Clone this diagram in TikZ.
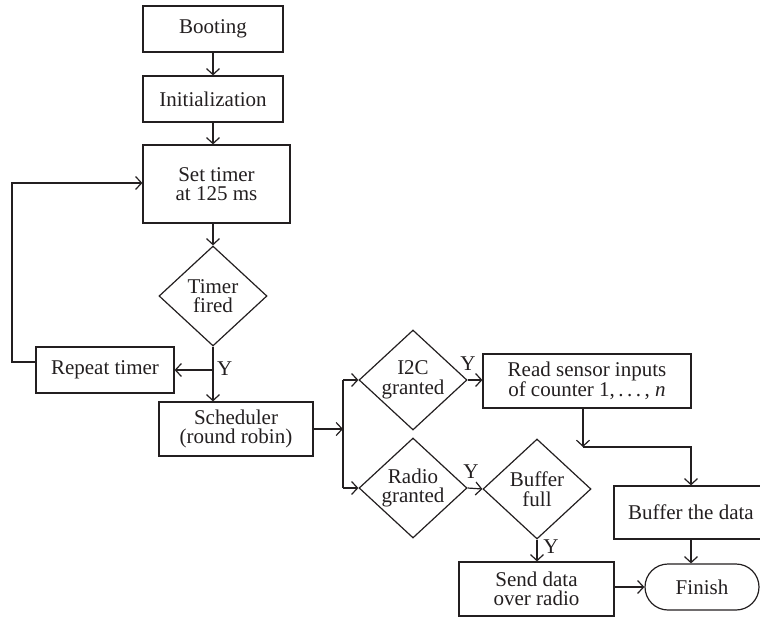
\documentclass[tikz,border=0pt]{standalone}
\usepackage{fontspec}
\setmainfont{Liberation Serif}
\usetikzlibrary{shapes.geometric,arrows.meta}
\definecolor{ink}{HTML}{231F20}
\tikzset{
  box/.style={draw=ink, line width=1.2pt, rectangle, align=center, inner sep=0pt, text=ink,
    font=\fontsize{21}{19.5}\selectfont},
  dec/.style={draw=ink, line width=1.2pt, diamond, aspect=1.08, align=center, inner sep=0pt,
    minimum width=108pt, minimum height=100pt, text=ink, font=\fontsize{21}{19.5}\selectfont},
  term/.style={box, rounded corners=23pt},
  lab/.style={text=ink, font=\fontsize{21}{21}\selectfont, inner sep=0pt},
  flow/.style={draw=ink, line width=1.2pt, -{Straight Barb[length=6pt,width=13pt,line width=1.2pt]}},
  line/.style={draw=ink, line width=1.2pt}
}
\begin{document}
\begin{tikzpicture}[x=1pt,y=-1pt]
\useasboundingbox (0,0) rectangle (760,619);
\node[box, minimum width=140pt, minimum height=46pt] (boot) at (213,29) {Booting};
\node[box, minimum width=140pt, minimum height=46pt] (init) at (213,99) {Initialization};
\node[box, minimum width=147pt, minimum height=78pt] (set) at (216.5,184) {Set timer\\at 125 ms};
\node[dec] (timer) at (213,296) {Timer\\fired};
\node[box, minimum width=138pt, minimum height=46pt] (rep) at (105,370) {Repeat timer};
\node[box, minimum width=154pt, minimum height=54pt] (sched) at (236,429) {Scheduler\\(round robin)};
\node[dec] (i2c) at (413,380) {I2C\\granted};
\node[dec] (radio) at (413,488) {Radio\\granted};
\node[box, minimum width=208pt, minimum height=54pt] (read) at (587,381) {Read sensor inputs\\of counter 1,\,.\,.\,.\,, \textit{n}};
\node[dec] (buf) at (537,489) {Buffer\\full};
\node[box, minimum width=154pt, minimum height=53pt] (bufd) at (691,512.5) {Buffer the data};
\node[box, minimum width=155pt, minimum height=54pt] (send) at (536.5,589) {Send data\\over radio};
\node[term, minimum width=114pt, minimum height=46pt] (fin) at (702,587) {Finish};
\coordinate (lp) at (12,183);
\coordinate (sp) at (343,429);
\coordinate (jn) at (583,447);
% connectors
\draw[flow] (boot.south) -- (init.north);
\draw[flow] (init.south) -- (init.south |- set.north);
\draw[flow] (timer.north |- set.south) -- (timer.north);
\draw[flow] (timer.south) -- (timer.south |- sched.north);
\draw[flow] (timer.south |- rep.east) -- (rep.east);
\node[lab, anchor=west] (y1) at (217,369) {Y};
\draw[flow] ([yshift=8pt]rep.west) -| (lp) -- (lp -| set.west);
\draw[flow] (sched.east |- sp) -- (sp);
\draw[line] (sp |- i2c.west) -- (sp |- radio.west);
\draw[flow] (sp |- i2c.west) -- (i2c.west);
\draw[flow] (sp |- radio.west) -- (radio.west);
\draw[flow] (i2c.east) -- (read.west |- i2c.east);
\node[lab] (y2) at (468,364) {Y};
\draw[flow] (radio.east) -- (buf.west);
\node[lab] (y3) at (471,472) {Y};
\draw[flow] (read.south -| jn) -- (jn);
\draw[flow] (jn) -| (bufd.north);
\draw[flow] (bufd.south) -- (bufd.south |- fin.north);
\draw[flow] (buf.south) -- (buf.south |- send.north);
\node[lab] (y4) at (551,547) {Y};
\draw[flow] (send.east |- fin.west) -- (fin.west);
\end{tikzpicture}
\end{document}
